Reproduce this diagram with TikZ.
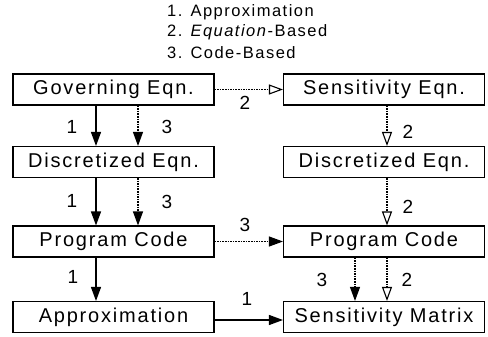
\documentclass[tikz,border=0pt]{standalone}
\usepackage{fontspec}
\setmainfont{Liberation Sans}[LetterSpace=9]
\usetikzlibrary{arrows.meta}
\begin{document}
\begin{tikzpicture}[x=1pt,y=-1pt,
  box/.style={draw,line width=1.1pt,minimum width=201pt,minimum height=31pt,
    inner sep=0pt,font=\fontsize{20}{22}\selectfont},
  lbl/.style={font=\fontsize{19}{21}\selectfont,inner sep=0pt},
  leg/.style={font=\fontsize{16.5}{18}\selectfont,inner sep=0pt,anchor=west},
  solidarrow/.style={line width=1.3pt,-{Triangle[length=14pt,width=10pt]}},
  dotarrow/.style={line width=1.1pt,dash pattern=on 1.6pt off 1pt,
    -{Triangle[length=14pt,width=10pt]}},
  openarrow/.style={line width=1.1pt,dash pattern=on 1.6pt off 1pt,
    -{Triangle[open,length=14pt,width=10pt,fill=white]}}]
\useasboundingbox (0,0) rectangle (488,337);

% legend
\node[leg] (l1) at (167,12) {1. Approximation};
\node[leg] (l2) at (167,32) {2. \textit{Equation}-Based};
\node[leg] (l3) at (167,53) {3. Code-Based};

% left column
\node[box] (gov)  at (113.5,89.5) {Governing Eqn.};
\node[box] (disc) at (113.5,162)  {Discretized Eqn.};
\node[box] (prog) at (113.5,241.5){Program Code};
\node[box] (appr) at (113.5,317)  {Approximation};

% right column
\node[box] (sens)  at (384,89.5)  {Sensitivity Eqn.};
\node[box] (sdisc) at (384,162)   {Discretized Eqn.};
\node[box] (sprog) at (384,241.5) {Program Code};
\node[box] (smat)  at (384,317)   {Sensitivity Matrix};

% vertical connectors, left
\draw[solidarrow] (gov.south -| 96,0) -- (disc.north -| 96,0);
\draw[dotarrow]   (gov.south -| 138,0) -- (disc.north -| 138,0);
\draw[solidarrow] (disc.south -| 96,0) -- (prog.north -| 96,0);
\draw[dotarrow]   (disc.south -| 138,0) -- (prog.north -| 138,0);
\draw[solidarrow] (prog.south -| 96,0) -- (appr.north -| 96,0);
\node[lbl] (n1) at (72,127) {1};
\node[lbl] (n2) at (167,127) {3};
\node[lbl] (n3) at (72,201) {1};
\node[lbl] (n4) at (167,202) {3};
\node[lbl] (n5) at (73,277) {1};

% vertical connectors, right
\draw[openarrow] (sens.south -| 387,0) -- (sdisc.north -| 387,0);
\draw[openarrow] (sdisc.south -| 387,0) -- (sprog.north -| 387,0);
\draw[dotarrow]  (sprog.south -| 355,0) -- (smat.north -| 355,0);
\draw[openarrow] (sprog.south -| 387,0) -- (smat.north -| 387,0);
\node[lbl] (n6) at (408,132) {2};
\node[lbl] (n7) at (408,207) {2};
\node[lbl] (n8) at (322,280) {3};
\node[lbl] (n9) at (407,280) {2};

% horizontal connectors
\draw[openarrow]  (gov.east) -- (sens.west);
\draw[dotarrow]   (prog.east) -- (sprog.west);
\draw[solidarrow] (appr.east |- 0,320) -- (smat.west |- 0,320);
\node[lbl] (h1) at (245,103) {2};
\node[lbl] (h2) at (245,225) {3};
\node[lbl] (h3) at (247,299) {1};
\end{tikzpicture}
\end{document}
